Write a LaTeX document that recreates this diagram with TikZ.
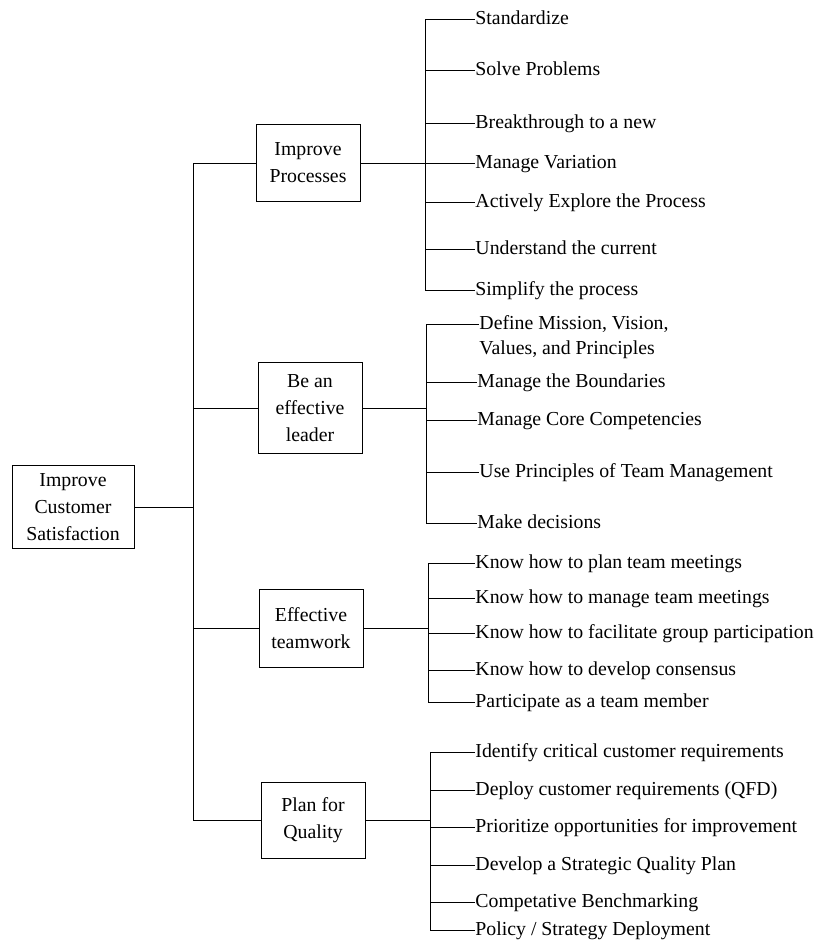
\documentclass[tikz,border=0pt]{standalone}
\usepackage{fontspec}
\setmainfont{Liberation Serif}
\usepackage{tikz}
\usetikzlibrary{positioning}

\begin{document}
\begin{tikzpicture}[x=1pt, y=-1pt, line width=0.9pt, font=\fontsize{19.8}{27}\selectfont]
    \tikzstyle{goal} = [rectangle, draw, minimum width=104pt, align=center, inner sep=0pt]
    \tikzstyle{task} = [anchor=west, inner sep=0pt, text height=14pt, text depth=4pt]

    \useasboundingbox (0,0) rectangle (819,943);

    % main goal and the four sub goals
    \node[goal, minimum width=122pt, minimum height=83pt] (root) at (73,507) {Improve\\Customer\\Satisfaction};
    \node[goal, minimum height=77pt] (proc) at (308,163) {Improve\\Processes};
    \node[goal, minimum height=91pt] (lead) at (310,408) {Be an\\effective\\leader};
    \node[goal, minimum height=78pt] (team) at (311,628) {Effective\\teamwork};
    \node[goal, minimum height=76pt] (qual) at (313,820) {Plan for\\Quality};

    \coordinate (trunk) at (193,0);
    \coordinate (procbar) at (425,0);
    \coordinate (leadbar) at (426,0);
    \coordinate (teambar) at (428,0);
    \coordinate (qualbar) at (430,0);

    % tasks
    \node[task] (std) at (475,19) {Standardize};
    \node[task] (solve) at (475,70) {Solve Problems};
    \node[task] (brk) at (475,123) {Breakthrough to a new};
    \node[task] (var) at (475,163) {Manage Variation};
    \node[task] (expl) at (475,202) {Actively Explore the Process};
    \node[task] (cur) at (475,249) {Understand the current};
    \node[task] (simp) at (475,290) {Simplify the process};

    \node[task] (mission) at (479,324) {Define Mission, Vision,};
    \node[task] (values) at (479,349) {Values, and Principles};
    \node[task] (bound) at (477,382) {Manage the Boundaries};
    \node[task] (core) at (477,420) {Manage Core Competencies};
    \node[task] (princ) at (479,472) {Use Principles of Team Management};
    \node[task] (dec) at (477,523) {Make decisions};

    \node[task] (plan) at (475,563) {Know how to plan team meetings};
    \node[task] (manage) at (475,598) {Know how to manage team meetings};
    \node[task] (facil) at (475,633) {Know how to facilitate group participation};
    \node[task] (cons) at (475,670) {Know how to develop consensus};
    \node[task] (memb) at (475,702) {Participate as a team member};

    \node[task] (ident) at (475,752) {Identify critical customer requirements};
    \node[task] (qfd) at (475,790) {Deploy customer requirements (QFD)};
    \node[task] (prio) at (475,827) {Prioritize opportunities for improvement};
    \node[task] (sqp) at (475,865) {Develop a Strategic Quality Plan};
    \node[task] (bench) at (475,902) {Competative Benchmarking};
    \node[task] (policy) at (475,930) {Policy / Strategy Deployment};

    % connectors
    \draw (root.east) -- (root.east -| trunk);
    \draw (trunk |- proc) -- (trunk |- qual);
    \foreach \g in {proc,lead,team,qual}
        \draw (trunk |- \g) -- (\g.west);

    \draw (proc.east) -- (proc.east -| procbar);
    \draw (procbar |- std) -- (procbar |- simp);
    \foreach \t in {std,solve,brk,var,expl,cur,simp}
        \draw (procbar |- \t) -- (\t.west);

    \draw (lead.east) -- (lead.east -| leadbar);
    \draw (leadbar |- mission) -- (leadbar |- dec);
    \foreach \t in {mission,bound,core,princ,dec}
        \draw (leadbar |- \t) -- (\t.west);

    \draw (team.east) -- (team.east -| teambar);
    \draw (teambar |- plan) -- (teambar |- memb);
    \foreach \t in {plan,manage,facil,cons,memb}
        \draw (teambar |- \t) -- (\t.west);

    \draw (qual.east) -- (qual.east -| qualbar);
    \draw (qualbar |- ident) -- (qualbar |- policy);
    \foreach \t in {ident,qfd,prio,sqp,bench,policy}
        \draw (qualbar |- \t) -- (\t.west);
\end{tikzpicture}
\end{document}
